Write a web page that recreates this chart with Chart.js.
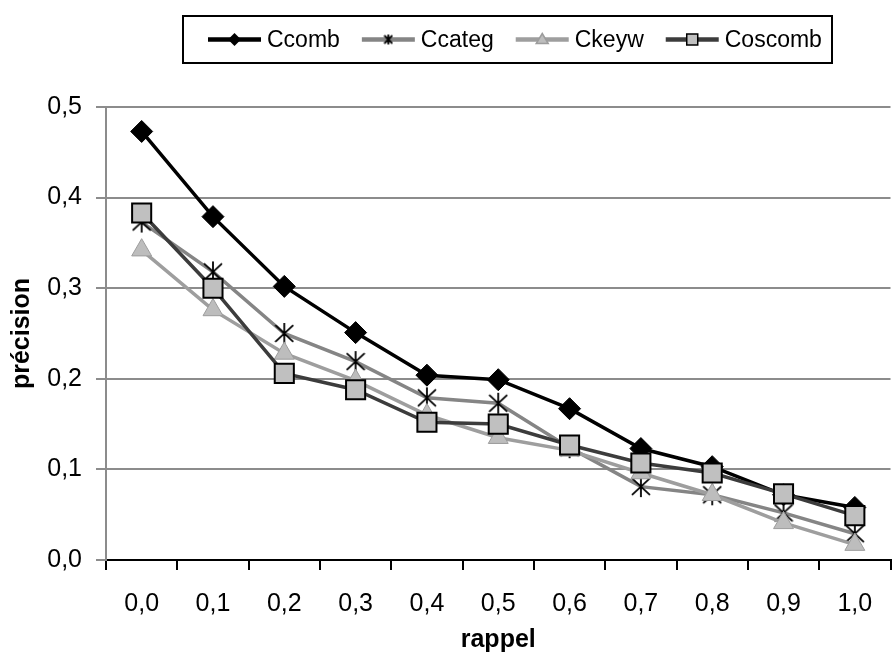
<!DOCTYPE html>
<html>
<head>
<meta charset="utf-8">
<script src="https://cdn.jsdelivr.net/npm/chart.js@4.4.1/dist/chart.umd.min.js"></script>
<style>
html, body { margin: 0; padding: 0; background: #fff; overflow: hidden; }
canvas { display: block; }
</style>
</head>
<body>
<canvas id="chartCanvas" width="906" height="655"></canvas>
<script>
var categories = ['0,0', '0,1', '0,2', '0,3', '0,4', '0,5', '0,6', '0,7', '0,8', '0,9', '1,0'];
var yTickLabels = ['0,0', '0,1', '0,2', '0,3', '0,4', '0,5'];
var ccomb   = [0.473, 0.379, 0.302, 0.251, 0.204, 0.199, 0.167, 0.123, 0.103, 0.072, 0.058];
var ccateg  = [0.373, 0.318, 0.250, 0.219, 0.179, 0.173, 0.124, 0.081, 0.072, 0.052, 0.029];
var ckeyw   = [0.342, 0.276, 0.228, 0.198, 0.160, 0.135, 0.121, 0.096, 0.072, 0.041, 0.017];
var coscomb = [0.383, 0.300, 0.206, 0.188, 0.152, 0.150, 0.127, 0.107, 0.096, 0.073, 0.049];

var fontFamily = '"Liberation Sans", Arial, sans-serif';

// Excel style star: an X with a vertical bar through it
function makeStar(w, h, lw) {
	var c = document.createElement('canvas');
	c.width = w + 2;
	c.height = h + 2;
	var ctx = c.getContext('2d');
	var cx = c.width / 2, cy = c.height / 2;
	var xh = h * 0.4;
	ctx.strokeStyle = '#000';
	ctx.lineWidth = lw;
	ctx.beginPath();
	ctx.moveTo(cx - w / 2, cy - xh);
	ctx.lineTo(cx + w / 2, cy + xh);
	ctx.moveTo(cx + w / 2, cy - xh);
	ctx.lineTo(cx - w / 2, cy + xh);
	ctx.moveTo(cx, cy - h / 2);
	ctx.lineTo(cx, cy + h / 2);
	ctx.stroke();
	return c;
}

var starBig = makeStar(18, 21, 1.8);
var starSmall = makeStar(8, 10, 1.8);

function drawMarker(ctx, kind, x, y, ds) {
	ctx.save();
	ctx.fillStyle = ds.pointBackgroundColor || '#000';
	ctx.strokeStyle = ds.pointBorderColor || '#000';
	ctx.lineWidth = 1.5;
	ctx.beginPath();
	if (kind === 'diamond') {
		ctx.moveTo(x, y - 6.5); ctx.lineTo(x + 6.5, y); ctx.lineTo(x, y + 6.5); ctx.lineTo(x - 6.5, y);
		ctx.closePath(); ctx.fill();
	} else if (kind === 'triangle') {
		ctx.moveTo(x, y - 6); ctx.lineTo(x + 6, y + 4); ctx.lineTo(x - 6, y + 4);
		ctx.closePath(); ctx.fill(); ctx.stroke();
	} else if (kind === 'square') {
		ctx.rect(x - 5.5, y - 5.5, 11, 11);
		ctx.fill(); ctx.stroke();
	} else if (kind === 'star') {
		ctx.drawImage(starSmall, x - starSmall.width / 2, y - starSmall.height / 2);
	}
	ctx.restore();
}

var legendMarkers = ['diamond', 'star', 'triangle', 'square'];

var legendBox = {
	id: 'legendBox',
	afterDraw: function(chart) {
		var ctx = chart.ctx;
		var datasets = chart.data.datasets;
		var sample = 53, gap = 6, spacing = 22;
		var boxLeft = 183, boxTop = 16, boxW = 649, boxH = 47, padLeft = 25;
		ctx.save();
		ctx.font = '23px ' + fontFamily;
		ctx.fillStyle = '#fff';
		ctx.fillRect(boxLeft, boxTop, boxW, boxH);
		ctx.strokeStyle = '#000';
		ctx.lineWidth = 2;
		ctx.strokeRect(boxLeft, boxTop, boxW, boxH);
		var x = boxLeft + padLeft;
		var cy = boxTop + boxH / 2;
		datasets.forEach(function(ds, i) {
			var w = ctx.measureText(ds.label).width;
			ctx.strokeStyle = ds.borderColor;
			ctx.lineWidth = 4.5;
			ctx.beginPath();
			ctx.moveTo(x, cy);
			ctx.lineTo(x + sample, cy);
			ctx.stroke();
			drawMarker(ctx, legendMarkers[i], x + sample / 2, cy, ds);
			ctx.fillStyle = '#000';
			ctx.textBaseline = 'middle';
			ctx.textAlign = 'left';
			ctx.fillText(ds.label, x + sample + gap, cy + 1);
			x += sample + gap + w + spacing;
		});
		ctx.restore();
	}
};

var chartCanvas = document.getElementById('chartCanvas');
var chartObj = new Chart(chartCanvas, {
	type: 'line',
	data: {
		labels: categories,
		datasets: [
			{
				label: 'Ccomb', data: ccomb, order: 4,
				borderColor: '#000', borderWidth: 3.5, tension: 0,
				pointStyle: 'rectRot', pointRadius: 11,
				pointBackgroundColor: '#000', pointBorderColor: '#000', pointBorderWidth: 1
			},
			{
				label: 'Ccateg', data: ccateg, order: 3,
				borderColor: '#858585', borderWidth: 3.5, tension: 0,
				pointStyle: starBig, pointRadius: 10,
				pointBackgroundColor: '#000', pointBorderColor: '#000'
			},
			{
				label: 'Ckeyw', data: ckeyw, order: 2,
				borderColor: '#9e9e9e', borderWidth: 3.5, tension: 0,
				pointStyle: 'triangle', pointRadius: 11.5,
				pointBackgroundColor: '#bdbdbd', pointBorderColor: '#9c9c9c', pointBorderWidth: 1
			},
			{
				label: 'Coscomb', data: coscomb, order: 1,
				borderColor: '#3c3c3c', borderWidth: 3.5, tension: 0,
				pointStyle: 'rect', pointRadius: 13.5,
				pointBackgroundColor: '#c0c0c0', pointBorderColor: '#000', pointBorderWidth: 2
			}
		]
	},
	options: {
		responsive: false,
		animation: false,
		events: [],
		layout: { padding: { top: 107, left: 0, right: 0, bottom: 0 } },
		plugins: {
			legend: { display: false },
			tooltip: { enabled: false }
		},
		scales: {
			x: {
				type: 'category',
				offset: true,
				grid: { offset: true, drawOnChartArea: false, drawTicks: true, tickLength: 10, color: '#000', lineWidth: 2 },
				border: { display: true, color: '#000', width: 2 },
				ticks: { color: '#000', font: { size: 25, family: fontFamily }, padding: 19, maxRotation: 0, autoSkip: false },
				title: { display: true, text: 'rappel', color: '#000', font: { size: 25, weight: 'bold', family: fontFamily }, padding: { top: 0, bottom: 0 } },
				afterFit: function(s) { s.height = 95; }
			},
			y: {
				min: 0,
				max: 0.5,
				ticks: {
					stepSize: 0.1, padding: 14, color: '#000',
					font: { size: 25, family: fontFamily },
					callback: function(v, i) { return yTickLabels[i]; }
				},
				grid: {
					color: function(ctx) { return ctx.tick && ctx.tick.value === 0 ? '#000' : '#8c8c8c'; },
					tickColor: '#8c8c8c', lineWidth: 2, tickLength: 10
				},
				border: { display: true, color: '#8c8c8c', width: 2 },
				title: { display: true, text: 'précision', color: '#000', font: { size: 25, weight: 'bold', family: fontFamily }, padding: { top: 7, bottom: 0 } },
				afterFit: function(s) { s.width = 106; }
			}
		}
	},
	plugins: [legendBox]
});
</script>
</body>
</html>
